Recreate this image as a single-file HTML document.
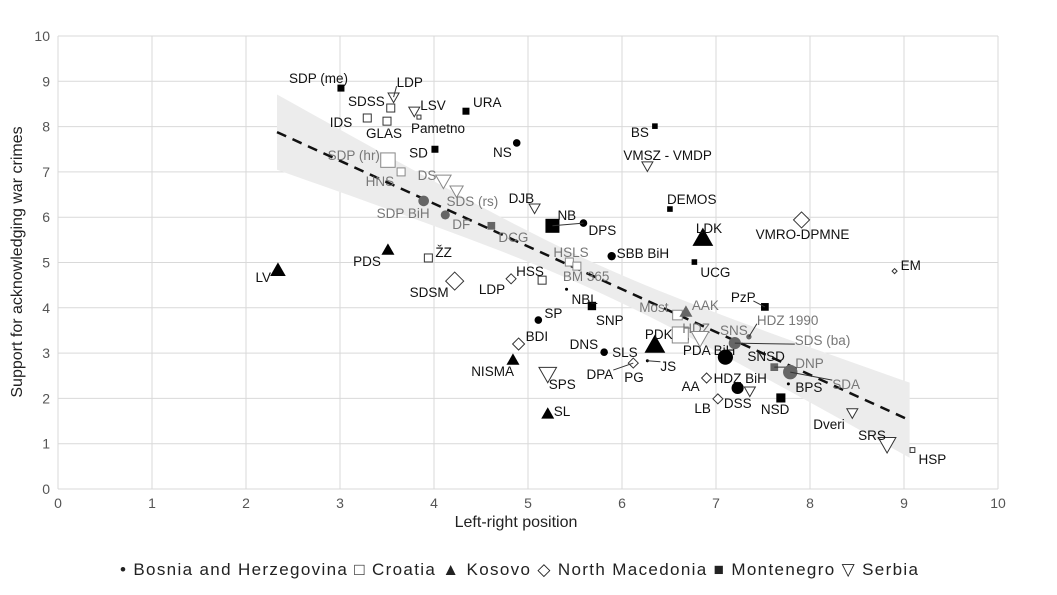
<!DOCTYPE html>
<html><head><meta charset="utf-8">
<style>
body{margin:0;background:#fff;}
svg text{font-family:"Liberation Sans",sans-serif;}
</style></head>
<body>
<svg id="chart" width="1057" height="590" viewBox="0 0 1057 590" xmlns="http://www.w3.org/2000/svg">
<g id="grid"></g>
<g id="band"></g>
<g id="pts"></g>
<g id="axes"></g>
<text x="516" y="527" text-anchor="middle" font-size="16" fill="#222">Left-right position</text>
<text transform="translate(22,262) rotate(-90)" text-anchor="middle" font-size="16" fill="#222">Support for acknowledging war crimes</text>
<text x="120" y="575" font-size="17" fill="#222" textLength="798" lengthAdjust="spacing">• Bosnia and Herzegovina  □ Croatia  ▲ Kosovo  ◇ North Macedonia  ■ Montenegro  ▽ Serbia</text>
</svg>
<script>
const xTicks=[0,1,2,3,4,5,6,7,8,9,10];
const yTicks=[0,1,2,3,4,5,6,7,8,9,10];
const parties=["SDP (me)","URA","SD","BS","DEMOS","NB","UCG","SNP","PzP","NSD","DCG","DNP",
"NS","SDP BiH","DF","DPS","SBB BiH","NBL","SP","DNS","SLS","JS","PDA BiH","SDS (ba)","SNSD","HDZ BiH","SDA","BPS","HDZ 1990",
"IDS","SDSS","GLAS","Pametno","SDP (hr)","HNS","ŽZ","HSS","HSLS","BM 365","HSP","Most","HDZ",
"LV","PDS","NISMA","SL","PDK","AAK","LDK",
"SDSM","LDP","BDI","DPA","PG","AA","LB","VMRO-DPMNE","EM",
"LDP","LSV","DS","SDS (rs)","DJB","VMSZ - VMDP","SPS","SNS","DSS","Dveri","SRS"];
const countries=["me","me","me","me","me","me","me","me","me","me","me","me",
"ba","ba","ba","ba","ba","ba","ba","ba","ba","ba","ba","ba","ba","ba","ba","ba","ba",
"hr","hr","hr","hr","hr","hr","hr","hr","hr","hr","hr","hr","hr",
"xk","xk","xk","xk","xk","xk","xk",
"mk","mk","mk","mk","mk","mk","mk","mk","mk",
"rs","rs","rs","rs","rs","rs","rs","rs","rs","rs","rs"];
const xVals=[3.01,4.34,4.01,6.35,6.51,5.26,6.77,5.68,7.52,7.69,4.61,7.62,
4.88,3.89,4.12,5.59,5.89,5.41,5.11,5.81,5.81,6.27,6.68,7.20,7.10,7.23,7.79,7.77,7.35,
3.29,3.54,3.50,3.84,3.51,3.65,3.94,5.15,5.44,5.52,9.09,6.59,6.62,
2.34,3.51,4.84,5.21,6.35,6.68,6.86,
4.22,4.82,4.90,6.12,6.12,6.90,7.02,7.91,8.90,
3.57,3.79,4.10,4.24,5.07,6.27,5.21,6.83,7.36,8.45,8.82];
const yVals=[8.85,8.34,7.50,8.01,6.18,5.81,5.01,4.04,4.02,2.01,5.81,2.69,
7.64,6.36,6.05,5.87,5.14,4.41,3.73,3.02,3.02,2.83,3.31,3.22,2.91,2.23,2.58,2.32,3.36,
8.19,8.41,8.12,8.21,7.26,7.00,5.10,4.61,5.01,4.92,0.86,3.84,3.40,
4.83,5.28,2.85,1.66,3.18,3.91,5.54,
4.59,4.64,3.20,2.78,2.78,2.45,1.99,5.94,4.81,
8.65,8.34,6.80,6.58,6.20,7.13,2.54,3.33,2.16,1.68,0.99];
const trendA=10.08, trendB=-0.945;
const sizes=[1,1,1,0.8,0.8,2,0.8,1.2,1.1,1.3,1.1,1.1,
1,1.4,1.2,1,1.1,0.4,1,1,0,0.4,0.8,1.6,2,1.6,1.9,0.4,0.7,
1,1,1,0.5,1.8,1,1,1,1,1,0.6,1.2,2,
1.2,1,1,1,1.6,1,1.6,
1.8,1,1.2,1,0,1,1,1.6,0.5,
1,1,1.4,1.2,1,1,1.6,1.6,1,1,1.6];
const grays=[0,0,0,0,0,0,0,0,0,0,1,1, 0,1,1,0,0,0,0,0,0,0,0,1,0,0,1,0,1, 0,0,0,0,1,1,0,0,1,1,0,1,1, 0,0,0,0,0,1,0, 0,0,0,0,0,0,0,0,0, 0,0,1,1,0,0,0,1,0,0,0];
const lab=[[-52,-10,"start"],[7,-9,"start"],[-7,3,"end"],[-6,6,"end"],[-3,-10,"start"],[5,-11,"start"],[6,10,"start"],[4,14,"start"],[-34,-10,"start",1],[-20,11,"start"],[7,11,"start"],[21,-4,"start",1],
[-5,9,"end"],[-47,12,"start"],[7,9,"start"],[5,7,"start"],[5,-3,"start"],[5,10,"start"],[6,-7,"start"],[-6,-8,"end"],[8,0,"start"],[13,5,"start",1],[-3,11,"start"],[60,-3,"start",1],[22,-1,"start"],[-24,-10,"start"],[42,12,"start",1],[7,3,"start"],[8,-17,"start",1],
[-15,4,"end"],[-6,-7,"end"],[-21,12,"start"],[-8,11,"start"],[-8,-5,"end"],[-7,9,"end"],[7,-6,"start"],[-26,-9,"start"],[-16,-10,"start"],[-14,10,"start"],[6,9,"start"],[-9,-8,"end"],[2,-7,"start"],
[-7,7,"end"],[-7,11,"end"],[1,11,"end"],[6,-3,"start"],[-10,-11,"start"],[6,-7,"start"],[-7,-10,"start"],
[-6,11,"end"],[-6,10,"end"],[7,-8,"start"],[-20,11,"end",1],[-9,14,"start"],[-7,8,"end"],[-7,9,"end"],[1,14,"middle"],[6,-6,"start"],
[3,-15,"start",1],[6,-6,"start"],[-7,-6,"end"],[-10,10,"start"],[-26,-10,"start"],[-24,-11,"start"],[1,10,"start"],[20,-8,"start"],[-26,12,"start"],[-39,11,"start"],[-29,-9,"start"]];

const NS="http://www.w3.org/2000/svg";
const X0=58,X1=998,Y0=489,Y1=36;
const sx=v=>X0+(v-0)/10*(X1-X0);
const sy=v=>Y0-(v-0)/10*(Y0-Y1);
function mk(t,a,p){const e=document.createElementNS(NS,t);for(const k in a)e.setAttribute(k,a[k]);p.appendChild(e);return e;}
const grid=document.getElementById('grid'),axes=document.getElementById('axes');
xTicks.forEach(t=>{
 const l=mk('line',{x1:sx(t),x2:sx(t),y1:Y1,y2:Y0,stroke:'#d9d9d9','stroke-width':1},grid);
 
 
 const tx=mk('text',{x:sx(t),y:Y0+19,'text-anchor':'middle','font-size':14,fill:'#555'},axes);
 tx.textContent=t;
 
 
});
yTicks.forEach(t=>{
 const l=mk('line',{x1:X0,x2:X1,y1:sy(t),y2:sy(t),stroke:'#d9d9d9','stroke-width':1},grid);
 
 
 const tx=mk('text',{x:X0-8,y:sy(t)+5,'text-anchor':'end','font-size':14,fill:'#555'},axes);
 tx.textContent=t;
 
 
});
const band=document.getElementById('band');
const xa=2.33,xb=9.06,xm=5.7;
let up=[],dn=[];
for(let i=0;i<=40;i++){const x=xa+(xb-xa)*i/40;const y=trendA+trendB*x;const h=Math.sqrt(0.09+0.053*(x-xm)*(x-xm));
 up.push(sx(x)+','+sy(y+h));dn.unshift(sx(x)+','+sy(y-h));}
const poly=mk('polygon',{points:up.concat(dn).join(' '),fill:'#ececec'},band);


const tl=mk('line',{x1:sx(xa),y1:sy(trendA+trendB*xa),x2:sx(xb),y2:sy(trendA+trendB*xb),stroke:'#111','stroke-width':2.5,'stroke-dasharray':'10,7'},band);


const pts=document.getElementById('pts');
parties.forEach((p,i)=>{
 const c=countries[i],x=sx(xVals[i]),y=sy(yVals[i]),s=sizes[i],g=grays[i];
 const col=g?'#666':'#000',ocol=g?'#888':'#333';
 let m=null;
 if(s>0){
 if(c==='ba'){m=mk('circle',{cx:x,cy:y,r:3.8*s,fill:col},pts);}
 else if(c==='me'){const w=7*s;m=mk('rect',{x:x-w/2,y:y-w/2,width:w,height:w,fill:col},pts);}
 else if(c==='hr'){const w=8*s;m=mk('rect',{x:x-w/2,y:y-w/2,width:w,height:w,fill:'#fff',stroke:ocol,'stroke-width':1},pts);}
 else if(c==='xk'){const w=6.5*s;m=mk('polygon',{points:`${x},${y-w} ${x-w},${y+w*0.75} ${x+w},${y+w*0.75}`,fill:col},pts);}
 else if(c==='mk'){const w=5*s;m=mk('polygon',{points:`${x},${y-w} ${x+w},${y} ${x},${y+w} ${x-w},${y}`,fill:'#fff',stroke:ocol,'stroke-width':1},pts);}
 else {const w=5.5*s;m=mk('polygon',{points:`${x-w},${y-w*0.75} ${x+w},${y-w*0.75} ${x},${y+w}`,fill:'#fff',stroke:ocol,'stroke-width':1},pts);}
 
 
 }
 const L=lab[i];
 if(L[3]){
  const w=p.length*7.5;
  let ex=x+L[0];
  if(L[2]==='start'&&L[0]<0) ex=x+L[0]+w;
  let ey=y+L[1]+(L[1]<0?4:-4);
  const ln=mk('line',{x1:x,y1:y,x2:ex,y2:ey,stroke:'#333','stroke-width':1},pts);
  
  }
 const t=mk('text',{x:x+L[0],y:y+L[1]+5,'text-anchor':L[2],'font-size':13.5,fill:g?'#777':'#111'},pts);
 t.textContent=p;
 
 
});
const nb=mk('line',{x1:sx(5.26),y1:sy(5.81),x2:sx(5.59),y2:sy(5.87),stroke:'#333','stroke-width':1},pts);


</script>
</body></html>
